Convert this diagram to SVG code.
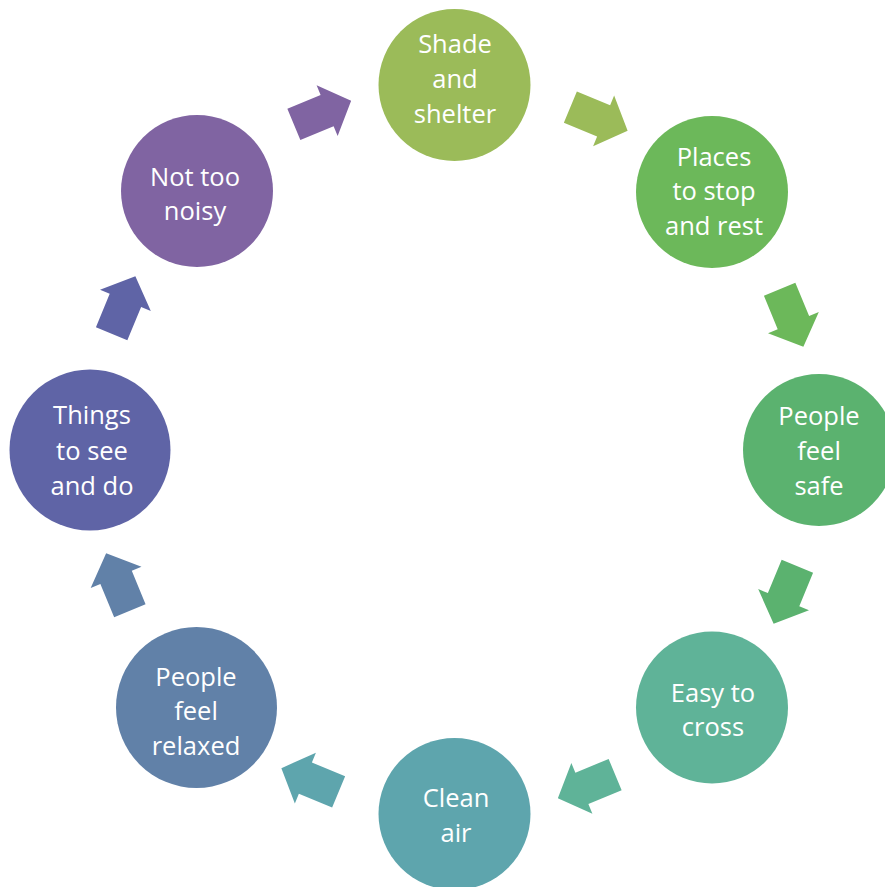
<svg xmlns="http://www.w3.org/2000/svg" xmlns:xlink="http://www.w3.org/1999/xlink" width="885" height="887" viewBox="0 0 885 887">
  <style>
    .lbl { font-family: "Open Sans", "Noto Sans", "Liberation Sans", sans-serif; font-size: 25.5px; fill: #ffffff; text-anchor: middle; }
  </style>
  <defs>
    <path id="arr" d="M-31,-17 H5 V-27.5 L31,0 L5,27.5 V17 H-31 Z"/>
  </defs>
  <rect width="885" height="887" fill="#ffffff"/>

  <g id="connectors">
    <use xlink:href="#arr" transform="translate(322.5,112.5) rotate(-22.5)" fill="#8064A2"/>
    <use xlink:href="#arr" transform="translate(599,119) rotate(22.5)" fill="#9BBB59"/>
    <use xlink:href="#arr" transform="translate(791.5,318) rotate(67.5)" fill="#6CB85A"/>
    <use xlink:href="#arr" transform="translate(785.5,595) rotate(112.5)" fill="#5BB26F"/>
    <use xlink:href="#arr" transform="translate(586.5,786.5) rotate(157.5)" fill="#5FB398"/>
    <use xlink:href="#arr" transform="translate(310,780) rotate(202.5)" fill="#5EA5AD"/>
    <use xlink:href="#arr" transform="translate(118,582) rotate(247.5)" fill="#6181A8"/>
    <use xlink:href="#arr" transform="translate(123.5,305) rotate(292.5)" fill="#5F64A6"/>
  </g>

  <g id="shade">
    <circle cx="454.5" cy="85" r="76" fill="#9BBB59"/>
    <text class="lbl" x="455" y="53">Shade</text>
    <text class="lbl" x="455" y="88">and</text>
    <text class="lbl" x="455" y="123">shelter</text>
  </g>
  <g id="places">
    <circle cx="712" cy="192" r="76" fill="#6CB85A"/>
    <text class="lbl" x="714" y="166">Places</text>
    <text class="lbl" x="714" y="200">to stop</text>
    <text class="lbl" x="714" y="235">and rest</text>
  </g>
  <g id="safe">
    <circle cx="819" cy="450" r="76" fill="#5BB26F"/>
    <text class="lbl" x="819" y="425">People</text>
    <text class="lbl" x="819" y="460">feel</text>
    <text class="lbl" x="819" y="495">safe</text>
  </g>
  <g id="easy">
    <circle cx="712" cy="707.5" r="76" fill="#5FB398"/>
    <text class="lbl" x="713" y="702">Easy to</text>
    <text class="lbl" x="713" y="736">cross</text>
  </g>
  <g id="clean">
    <circle cx="454.5" cy="814" r="76" fill="#5EA5AD"/>
    <text class="lbl" x="456" y="807">Clean</text>
    <text class="lbl" x="456" y="842">air</text>
  </g>
  <g id="relaxed">
    <circle cx="196.5" cy="707.5" r="80.5" fill="#6181A8"/>
    <text class="lbl" x="196" y="686">People</text>
    <text class="lbl" x="196" y="720">feel</text>
    <text class="lbl" x="196" y="755">relaxed</text>
  </g>
  <g id="things">
    <circle cx="90" cy="450" r="80.5" fill="#5F64A6"/>
    <text class="lbl" x="92" y="424">Things</text>
    <text class="lbl" x="92" y="459.5">to see</text>
    <text class="lbl" x="92" y="494.5">and do</text>
  </g>
  <g id="noisy">
    <circle cx="197" cy="191" r="76" fill="#8064A2"/>
    <text class="lbl" x="195" y="186">Not too</text>
    <text class="lbl" x="195" y="220">noisy</text>
  </g>
</svg>
